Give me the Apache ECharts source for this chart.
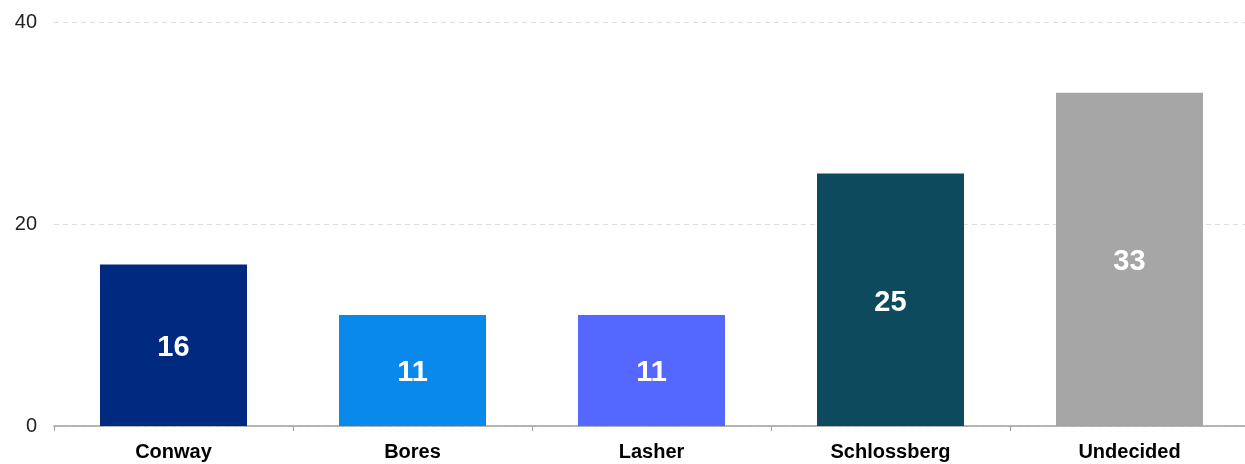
<!DOCTYPE html>
<html>
<head>
<meta charset="utf-8">
<script src="https://cdn.jsdelivr.net/npm/echarts@6/dist/echarts.min.js"></script>
<style>html,body{margin:0;padding:0;background:#fff;overflow:hidden}#c{width:1250px;height:464px}</style>
</head>
<body>
<div id="c"></div>
<script>
const categories = ["Conway", "Bores", "Lasher", "Schlossberg", "Undecided"];
const values = [16, 11, 11, 25, 33];
const colors = ["#002a80", "#0889eb", "#5468ff", "#0d4a5e", "#a6a6a6"];
const yTicks = [0, 20, 40];

const chart = echarts.init(document.getElementById('c'));
chart.setOption({
  animation: false,
  grid: { left: 54, right: 1, top: 22, bottom: 38, containLabel: false },
  xAxis: {
    type: 'category',
    data: categories,
    axisLine: { lineStyle: { color: '#a0a0a0', width: 1.5 } },
    axisTick: { show: true, length: 5, lineStyle: { color: '#a0a0a0' } },
    axisLabel: { color: '#000', fontSize: 20, fontWeight: 'bold', fontFamily: 'Liberation Sans, Arial, sans-serif', margin: 16 }
  },
  yAxis: {
    type: 'value',
    min: yTicks[0], max: yTicks[yTicks.length - 1], interval: 20,
    axisLine: { show: false },
    axisTick: { show: false },
    axisLabel: { color: '#222', fontSize: 20, fontFamily: 'Liberation Sans, Arial, sans-serif', margin: 17 },
    splitLine: { lineStyle: { color: '#dddddd', type: [5, 4], width: 1 } }
  },
  series: [{
    type: 'bar',
    barWidth: '61.5%',
    data: values.map((v, i) => ({ value: v, itemStyle: { color: colors[i] } })),
    label: {
      show: true, position: 'inside', color: '#fff', fontSize: 29, fontWeight: 'bold',
      fontFamily: 'Liberation Sans, Arial, sans-serif', offset: [0, 3]
    }
  }]
});
</script>
</body>
</html>
